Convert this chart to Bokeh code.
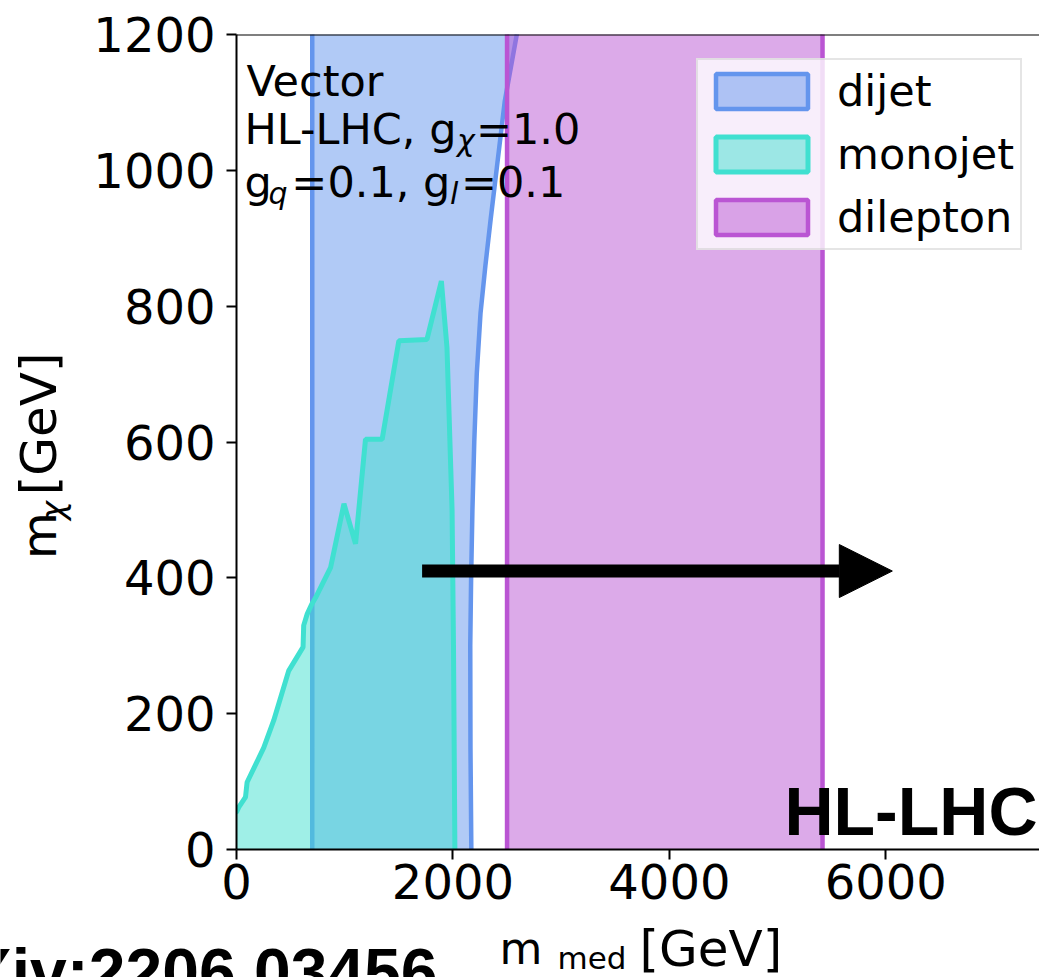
import math
from bokeh.plotting import figure
from bokeh.layouts import column, row
from bokeh.models import (Range1d, FixedTicker, Label, Legend, LegendItem, Span,
                          Arrow, NormalHead)
from bokeh.embed import file_html
from bokeh.resources import INLINE

# ---------------- data ----------------
x_ticks = [0, 2000, 4000, 6000]
y_ticks = [0, 200, 400, 600, 800, 1000, 1200]
x_max = 7420
y_max = 1200

# dijet excluded band: left edge and right (curved) edge, m_med vs m_chi
dijet_left_m_med = 700
dijet_right_m_med = [2170, 2162, 2160, 2168, 2180, 2197, 2220, 2255, 2300, 2350, 2405, 2479, 2590, 2650]
dijet_right_m_chi = [0, 150, 300, 400, 500, 600, 700, 790, 860, 930, 1003, 1102, 1200, 1250]

# monojet excluded region boundary
mono_m_med = [0, 20, 83, 98, 252, 344, 482, 615, 621, 654, 698, 731, 869, 993, 1100,
              1192, 1346, 1500, 1760, 1893, 1945, 1980, 1992, 2005, 2018]
mono_m_chi = [55, 62, 77, 99, 150, 190, 263, 298, 330, 347, 362, 371, 415, 509, 450,
              604, 604, 749, 751, 837, 739, 560, 500, 300, 0]

# dilepton excluded band
dilepton_m_med = [2500, 5415]

# arrow (projection)
arrow_m_med = [1715, 6060]
arrow_m_chi = 410

series = ["dijet", "monojet", "dilepton"]
colors = {"dijet": "#6495ED", "monojet": "#40E0D0", "dilepton": "#BA55D3"}

# ---------------- layout ----------------
W, H = 1039, 977
LW = 90            # left strip (y label)
MH = 920           # height of the main row
L, R, T, B = 234, 1039, 34, 849   # frame edges in page pixels
FONT = "DejaVu Sans"
BOLD = "Liberation Sans"


def blank(w, h):
    f = figure(width=w, height=h, output_backend="svg", toolbar_location=None,
               x_range=Range1d(0, w), y_range=Range1d(0, h),
               x_axis_type=None, y_axis_type=None,
               min_border_left=0, min_border_right=0, min_border_top=0, min_border_bottom=0)
    f.outline_line_color = None
    f.background_fill_color = "white"
    f.border_fill_color = "white"
    return f


p = figure(width=W - LW, height=MH, output_backend="svg", toolbar_location=None,
           x_range=Range1d(0, x_max), y_range=Range1d(0, y_max),
           min_border_left=L - LW, min_border_right=W - R, min_border_top=T,
           min_border_bottom=MH - B)
p.outline_line_color = None
p.xgrid.visible = False
p.ygrid.visible = False
p.background_fill_color = "white"
p.border_fill_color = "white"

for ax, ticks in ((p.xaxis[0], x_ticks), (p.yaxis[0], y_ticks)):
    ax.ticker = FixedTicker(ticks=ticks)
    ax.minor_tick_line_color = None
    ax.major_tick_in = 0
    ax.major_tick_out = 10
    ax.major_tick_line_width = 2
    ax.axis_line_width = 2
    ax.axis_line_color = "black"
    ax.major_tick_line_color = "black"
    ax.major_label_text_font = FONT
    ax.major_label_text_font_size = "48px"
    ax.major_label_text_color = "black"
p.xaxis.major_label_standoff = 4
p.yaxis.major_label_standoff = 11

p.add_layout(Span(location=y_max, dimension="width", line_color="black", line_width=2))

# off-frame extensions so only the real boundaries are visible
xlo = -0.05 * x_max
ylo, yhi = -0.05 * y_max, 1.05 * y_max

# dijet polygon
dx = [dijet_left_m_med, dijet_left_m_med, dijet_right_m_med[-1]] + dijet_right_m_med[::-1] + [dijet_right_m_med[0]]
dy = [ylo, yhi, yhi] + dijet_right_m_chi[::-1] + [ylo]
r_dijet = p.patch(dx, dy, fill_color=colors["dijet"], fill_alpha=0.5,
                  line_color=colors["dijet"], line_width=4.5)

# monojet polygon
mx = [xlo] + mono_m_med + [mono_m_med[-1], xlo]
my = [mono_m_chi[0]] + mono_m_chi + [ylo, ylo]
r_mono = p.patch(mx, my, fill_color=colors["monojet"], fill_alpha=0.5,
                 line_color=colors["monojet"], line_width=5)

# dilepton polygon
lx = [dilepton_m_med[0], dilepton_m_med[0], dilepton_m_med[1], dilepton_m_med[1]]
ly = [ylo, yhi, yhi, ylo]
r_dilep = p.patch(lx, ly, fill_color=colors["dilepton"], fill_alpha=0.5,
                  line_color=colors["dilepton"], line_width=4.5)

# arrow
p.add_layout(Arrow(end=NormalHead(size=53, fill_color="black", line_color="black", line_width=1),
                   x_start=arrow_m_med[0], y_start=arrow_m_chi,
                   x_end=arrow_m_med[1], y_end=arrow_m_chi,
                   line_width=13, line_color="black"))

legend = Legend(items=[LegendItem(label=s, renderers=[r]) for s, r in
                       zip(series, [r_dijet, r_mono, r_dilep])],
                location=(694 - L, B - 250),
                label_text_font=FONT, label_text_font_size="43px",
                label_text_color="black",
                glyph_width=115, glyph_height=44, label_standoff=18,
                padding=6, spacing=13, margin=0,
                border_line_color="#cccccc", border_line_width=2,
                background_fill_color="white", background_fill_alpha=0.8)
p.add_layout(legend)

left = blank(LW, MH)
bottom = blank(W, H - MH)

SHIFT = {FONT: 0.42, BOLD: 0.36}
ROT_FIX = 36   # empirical correction along the text direction for rotated pieces


def put(fig, txt, px, py, size, style="normal", align="left", angle=0.0, font=FONT):
    """Place a text piece by its page-pixel baseline origin."""
    sh = SHIFT[font] * size
    if angle == 0.0:
        py = py - sh
    else:
        px = px - sh
        py = py + ROT_FIX
    if fig is p:
        x = (px - L) / (R - L) * x_max
        y = (B - py) / (B - T) * y_max
    elif fig is left:
        x = px
        y = MH - py
    else:
        x = px
        y = H - py
    fig.add_layout(Label(x=x, y=y, text=txt, text_font=font,
                         text_font_size=f"{size}px", text_font_style=style,
                         text_align=align, text_baseline="alphabetic",
                         angle=angle, text_color="black"))


# annotation block
put(p, "Vector", 244, 99, 43)
put(p, "HL-LHC, g", 242, 147, 43)
put(p, "\u03c7", 455, 153, 30, style="italic")
put(p, "=1.0", 474, 147, 43)
put(p, "g", 242, 200, 43)
put(p, "q", 266, 206, 30, style="italic")
put(p, "=0.1, g", 289, 200, 43)
put(p, "l", 448, 206, 30, style="italic")
put(p, "=0.1", 459, 200, 43)
put(p, "HL-LHC", 1037, 835, 68, style="bold", align="right", font=BOLD)

# x axis label
put(bottom, "m", 499, 966, 44)
put(bottom, "med", 557, 971, 31)
put(bottom, "[GeV]", 639, 969, 50)
put(bottom, "arXiv:2206.03456", 437, 995, 66, style="bold", align="right", font=BOLD)

# y axis label (rotated)
put(left, "m", 59, 556, 48, angle=math.pi / 2)
put(left, "\u03c7", 66, 512, 32, style="italic", angle=math.pi / 2)
put(left, "[GeV]", 59, 484, 50, angle=math.pi / 2)

layout = column(row(left, p), bottom, spacing=0)
open("out.html", "w").write(file_html(layout, INLINE))
